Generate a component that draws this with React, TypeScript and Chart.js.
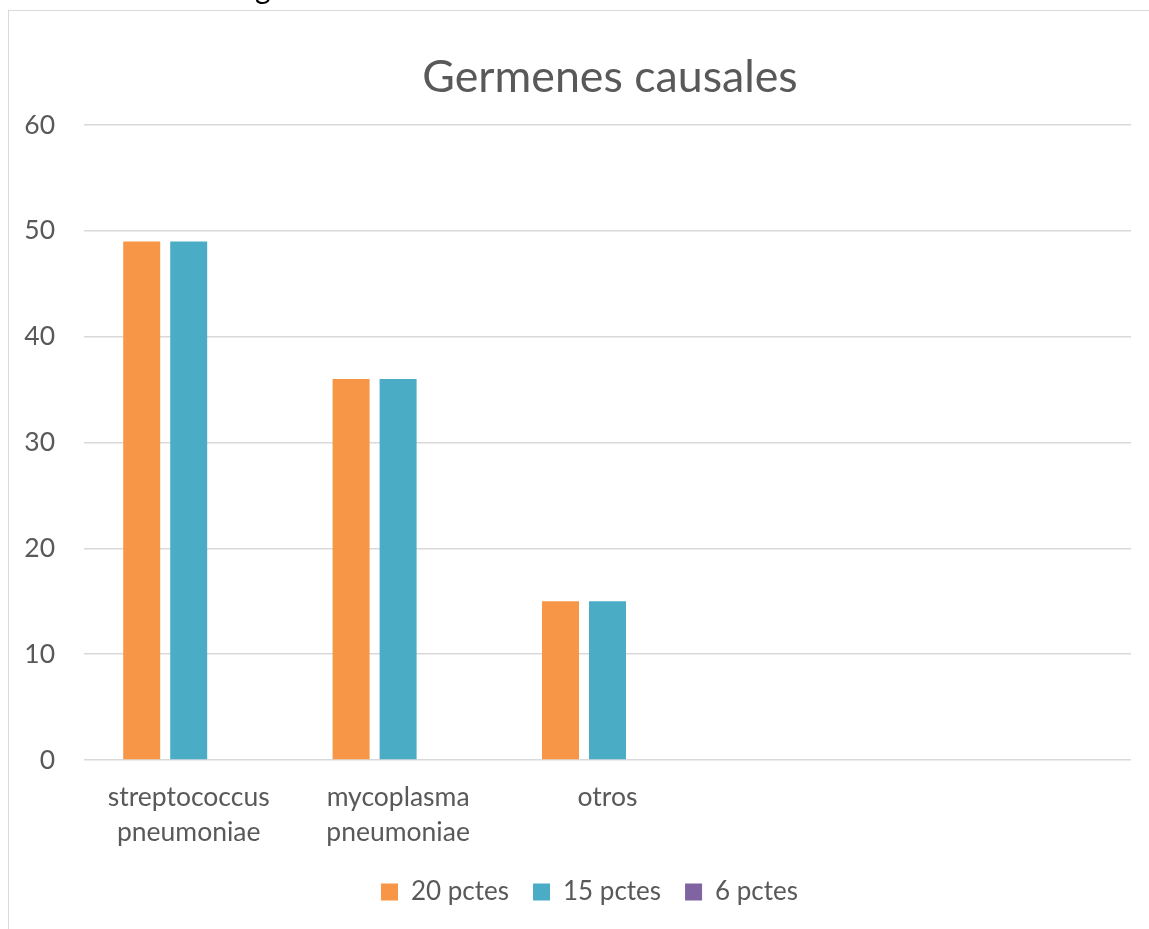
import React, { useEffect, useRef } from "react";
import { Chart, registerables } from "chart.js";

Chart.register(...registerables);

const categories: (string | string[])[] = [
  ["streptococcus", "pneumoniae"],
  ["mycoplasma", "pneumoniae"],
  "otros",
  "",
  "",
];
const series20 = [49, 36, 15, null, null];
const series15 = [49, 36, 15, null, null];
const series6 = [null, null, null, null, null];
const seriesNames = ["20 pctes", "15 pctes", "6 pctes"];
const title = "Germenes causales";

const FONT = "Lato, 'Open Sans', sans-serif";
const TEXT = "#595959";

const shiftPlugin = {
  id: "shiftBlocks",
  afterLayout(chart: any) {
    if (chart.titleBlock) {
      chart.titleBlock.left += 40;
      chart.titleBlock.right += 40;
    }
    if (chart.legend) {
      chart.legend.left += 19.5;
      chart.legend.right += 19.5;
    }
  },
};

export default function App() {
  const ref = useRef<HTMLCanvasElement | null>(null);
  useEffect(() => {
    if (!ref.current) return;
    const chart = new Chart(ref.current, {
      type: "bar",
      data: {
        labels: categories,
        datasets: [
          { label: seriesNames[0], data: series20, backgroundColor: "#F79646" },
          { label: seriesNames[1], data: series15, backgroundColor: "#4BACC6" },
          { label: seriesNames[2], data: series6, backgroundColor: "#8064A2" },
        ],
      },
      options: {
        responsive: false,
        animation: false,
        categoryPercentage: 0.6734,
        barPercentage: 0.787,
        layout: { padding: { left: 0, right: 18, top: 0, bottom: 14 } },
        plugins: {
          title: {
            display: true,
            text: title,
            color: TEXT,
            font: { family: FONT, size: 44.7, weight: "normal", lineHeight: 1.2 },
            padding: { top: 40.2, bottom: 20.2 },
          },
          legend: {
            display: true,
            position: "bottom",
            labels: {
              color: TEXT,
              font: { family: FONT, size: 26 },
              boxWidth: 17,
              boxHeight: 17,
              padding: 24,
            },
          },
          tooltip: { enabled: false },
        },
        scales: {
          x: {
            grid: { display: false, drawTicks: false },
            border: { display: false },
            ticks: {
              color: TEXT,
              font: { family: FONT, size: 26.5, lineHeight: 1.32 },
              padding: 19.5,
              maxRotation: 0,
              autoSkip: false,
            },
            afterFit(scale: any) {
              scale.height = 95;
            },
          },
          y: {
            min: 0,
            max: 60,
            grid: { color: "#D9D9D9", lineWidth: 1.5, drawTicks: false },
            border: { display: false },
            ticks: {
              stepSize: 10,
              color: TEXT,
              font: { family: FONT, size: 26.5 },
              padding: 29,
            },
            afterFit(scale: any) {
              scale.width = 75;
            },
          },
        },
      },
      plugins: [shiftPlugin],
    });
    return () => chart.destroy();
  }, []);

  return (
    <>
      <span
        style={{
          position: "fixed",
          left: 255,
          top: -27,
          fontFamily: "Lato, sans-serif",
          fontSize: 30,
          lineHeight: "28px",
          color: "#000",
        }}
      >
        g
      </span>
      <div
        style={{
          position: "fixed",
          left: 8,
          top: 10,
          width: 1141,
          height: 919,
          boxSizing: "border-box",
          borderLeft: "1.5px solid #D9D9D9",
          borderTop: "1.5px solid #D9D9D9",
          background: "#fff",
        }}
      >
        <canvas ref={ref} width={1140} height={918} style={{ display: "block" }} />
      </div>
    </>
  );
}
